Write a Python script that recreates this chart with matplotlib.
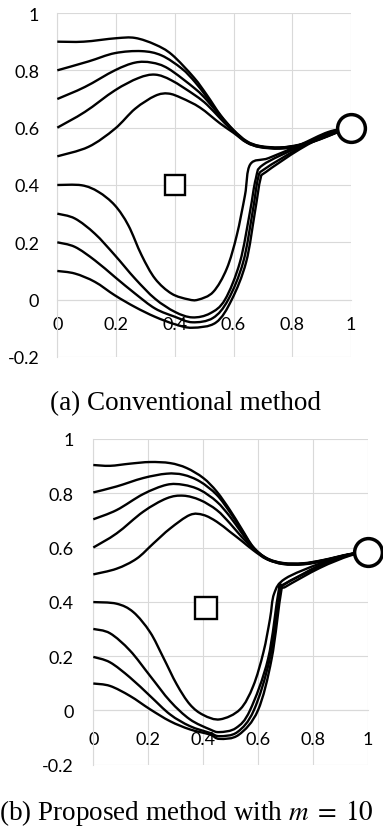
"""
Trajectories: conventional method vs proposed method (m = 10)
"""
import matplotlib
matplotlib.use('Agg')
import matplotlib.pyplot as plt
from matplotlib.path import Path
from matplotlib.patches import PathPatch

## tick values and labels
ticks_x = [0, 0.2, 0.4, 0.6, 0.8, 1]
ticks_y = [-0.2, 0, 0.2, 0.4, 0.6, 0.8, 1]
labels_x = ['0', '0.2', '0.4', '0.6', '0.8', '1']
labels_y = ['-0.2', '0', '0.2', '0.4', '0.6', '0.8', '1']

## (a) conventional method
conv_start = (0.4, 0.4)      # square
conv_goal = (1.0, 0.6)       # circle

conv_09_x = [0, 0.09, 0.2, 0.265, 0.333, 0.39, 0.465, 0.51, 0.555, 0.6, 0.645, 0.69, 0.758, 0.826, 0.894, 0.95, 1.0]
conv_09_y = [0.90, 0.90, 0.912, 0.913, 0.89, 0.855, 0.775, 0.713, 0.645, 0.592, 0.553, 0.536, 0.531, 0.541, 0.563, 0.585, 0.6]
conv_08_x = [0, 0.106, 0.196, 0.287, 0.355, 0.424, 0.469, 0.51, 0.555, 0.6, 0.645, 0.69, 0.758, 0.826, 0.894, 0.95, 1.0]
conv_08_y = [0.80, 0.831, 0.86, 0.867, 0.852, 0.806, 0.759, 0.705, 0.642, 0.59, 0.551, 0.535, 0.53, 0.54, 0.562, 0.584, 0.6]
conv_07_x = [0, 0.094, 0.196, 0.265, 0.321, 0.378, 0.469, 0.51, 0.555, 0.6, 0.645, 0.69, 0.758, 0.826, 0.894, 0.95, 1.0]
conv_07_y = [0.70, 0.742, 0.80, 0.827, 0.827, 0.806, 0.736, 0.695, 0.64, 0.588, 0.55, 0.534, 0.529, 0.539, 0.561, 0.584, 0.6]
conv_06_x = [0, 0.094, 0.196, 0.276, 0.333, 0.389, 0.469, 0.51, 0.555, 0.6, 0.645, 0.69, 0.758, 0.826, 0.894, 0.95, 1.0]
conv_06_y = [0.60, 0.655, 0.73, 0.773, 0.785, 0.765, 0.713, 0.68, 0.632, 0.586, 0.549, 0.533, 0.528, 0.538, 0.56, 0.583, 0.6]
conv_05_x = [0, 0.106, 0.196, 0.265, 0.333, 0.378, 0.424, 0.486, 0.554, 0.6, 0.645, 0.69, 0.758, 0.826, 0.894, 0.95, 1.0]
conv_05_y = [0.50, 0.533, 0.596, 0.666, 0.711, 0.719, 0.703, 0.67, 0.615, 0.582, 0.548, 0.532, 0.527, 0.537, 0.559, 0.582, 0.6]
conv_04_x = [0, 0.083, 0.14, 0.196, 0.242, 0.287, 0.333, 0.389, 0.446, 0.48, 0.531, 0.577, 0.611, 0.639, 0.657, 0.72, 0.826, 0.923, 1.0]
conv_04_y = [0.40, 0.399, 0.376, 0.329, 0.259, 0.155, 0.073, 0.021, 0.001, 0.0, 0.027, 0.108, 0.224, 0.364, 0.472, 0.494, 0.54, 0.585, 0.6]
conv_03_x = [0, 0.06, 0.128, 0.196, 0.265, 0.333, 0.401, 0.46, 0.52, 0.571, 0.622, 0.656, 0.676, 0.7, 0.826, 0.93, 1.0]
conv_03_y = [0.30, 0.283, 0.23, 0.155, 0.073, 0.003, -0.043, -0.062, -0.048, 0.0, 0.131, 0.306, 0.422, 0.47, 0.535, 0.585, 0.6]
conv_02_x = [0, 0.06, 0.128, 0.196, 0.265, 0.333, 0.401, 0.46, 0.53, 0.582, 0.633, 0.665, 0.684, 0.705, 0.826, 0.93, 1.0]
conv_02_y = [0.20, 0.184, 0.137, 0.079, 0.021, -0.031, -0.06, -0.079, -0.064, 0.0, 0.131, 0.306, 0.425, 0.455, 0.53, 0.582, 0.6]
conv_01_x = [0, 0.06, 0.128, 0.196, 0.265, 0.333, 0.401, 0.46, 0.54, 0.594, 0.643, 0.673, 0.692, 0.71, 0.826, 0.93, 1.0]
conv_01_y = [0.10, 0.091, 0.062, 0.015, -0.026, -0.06, -0.086, -0.098, -0.08, 0.0, 0.131, 0.306, 0.422, 0.445, 0.525, 0.58, 0.6]

## (b) proposed method with m = 10
prop_start = (0.41, 0.378)
prop_goal = (1.0, 0.582)

prop_09_x = [0, 0.061, 0.134, 0.207, 0.28, 0.34, 0.401, 0.45, 0.498, 0.54, 0.583, 0.632, 0.692, 0.765, 0.838, 0.935, 1.0]
prop_09_y = [0.904, 0.901, 0.909, 0.915, 0.911, 0.893, 0.856, 0.806, 0.738, 0.67, 0.602, 0.561, 0.543, 0.542, 0.554, 0.576, 0.582]
prop_08_x = [0, 0.085, 0.182, 0.267, 0.328, 0.389, 0.45, 0.498, 0.54, 0.583, 0.632, 0.692, 0.765, 0.838, 0.935, 1.0]
prop_08_y = [0.803, 0.825, 0.856, 0.872, 0.868, 0.843, 0.794, 0.73, 0.665, 0.6, 0.56, 0.542, 0.541, 0.553, 0.575, 0.582]
prop_07_x = [0, 0.085, 0.182, 0.267, 0.328, 0.389, 0.45, 0.498, 0.54, 0.583, 0.632, 0.692, 0.765, 0.838, 0.935, 1.0]
prop_07_y = [0.704, 0.738, 0.797, 0.831, 0.831, 0.812, 0.769, 0.714, 0.655, 0.598, 0.559, 0.541, 0.54, 0.552, 0.575, 0.582]
prop_06_x = [0, 0.085, 0.182, 0.267, 0.328, 0.389, 0.45, 0.498, 0.54, 0.583, 0.632, 0.692, 0.765, 0.838, 0.935, 1.0]
prop_06_y = [0.60, 0.652, 0.732, 0.781, 0.791, 0.775, 0.738, 0.689, 0.64, 0.596, 0.558, 0.54, 0.539, 0.551, 0.574, 0.582]
prop_05_x = [0, 0.085, 0.158, 0.219, 0.28, 0.352, 0.401, 0.45, 0.498, 0.54, 0.583, 0.632, 0.692, 0.765, 0.838, 0.935, 1.0]
prop_05_y = [0.501, 0.522, 0.559, 0.615, 0.67, 0.72, 0.72, 0.695, 0.658, 0.625, 0.59, 0.557, 0.539, 0.538, 0.55, 0.574, 0.582]
prop_04_x = [0, 0.085, 0.146, 0.207, 0.255, 0.304, 0.352, 0.401, 0.462, 0.535, 0.583, 0.62, 0.644, 0.659, 0.699, 0.826, 0.935, 1.0]
prop_04_y = [0.399, 0.393, 0.362, 0.288, 0.195, 0.096, 0.022, -0.017, -0.033, 0.004, 0.09, 0.214, 0.337, 0.43, 0.485, 0.541, 0.575, 0.582]
prop_03_x = [0, 0.061, 0.134, 0.207, 0.28, 0.352, 0.425, 0.46, 0.52, 0.571, 0.637, 0.675, 0.69, 0.826, 0.935, 1.0]
prop_03_y = [0.30, 0.284, 0.22, 0.127, 0.034, -0.033, -0.07, -0.08, -0.065, 0.0, 0.19, 0.437, 0.46, 0.535, 0.575, 0.582]
prop_02_x = [0, 0.061, 0.134, 0.207, 0.28, 0.352, 0.425, 0.46, 0.525, 0.585, 0.643, 0.68, 0.695, 0.826, 0.935, 1.0]
prop_02_y = [0.197, 0.177, 0.121, 0.053, -0.015, -0.058, -0.083, -0.095, -0.08, 0.0, 0.19, 0.44, 0.465, 0.53, 0.572, 0.582]
prop_01_x = [0, 0.061, 0.134, 0.207, 0.28, 0.352, 0.425, 0.46, 0.53, 0.6, 0.65, 0.685, 0.70, 0.826, 0.935, 1.0]
prop_01_y = [0.099, 0.09, 0.053, 0.004, -0.04, -0.07, -0.089, -0.105, -0.09, 0.0, 0.19, 0.44, 0.455, 0.525, 0.57, 0.582]

conv_curves = [(conv_09_x, conv_09_y), (conv_08_x, conv_08_y), (conv_07_x, conv_07_y),
               (conv_06_x, conv_06_y), (conv_05_x, conv_05_y), (conv_04_x, conv_04_y),
               (conv_03_x, conv_03_y), (conv_02_x, conv_02_y), (conv_01_x, conv_01_y)]
prop_curves = [(prop_09_x, prop_09_y), (prop_08_x, prop_08_y), (prop_07_x, prop_07_y),
               (prop_06_x, prop_06_y), (prop_05_x, prop_05_y), (prop_04_x, prop_04_y),
               (prop_03_x, prop_03_y), (prop_02_x, prop_02_y), (prop_01_x, prop_01_y)]

plt.rcParams['mathtext.fontset'] = 'stix'
plt.rcParams['font.family'] = ['Lato', 'DejaVu Sans']
plt.rcParams['font.size'] = 13
grid_col = '#d9d9d9'


# smoothed line like a spreadsheet "smooth line": bezier through the read points
def smooth_path(xs, ys):
    pts = list(zip(xs, ys))
    n = len(pts)
    verts = [pts[0]]
    codes = [Path.MOVETO]
    for i in range(n - 1):
        p0 = pts[max(i - 1, 0)]
        p1 = pts[i]
        p2 = pts[i + 1]
        p3 = pts[min(i + 2, n - 1)]
        c1 = (p1[0] + (p2[0] - p0[0]) / 6, p1[1] + (p2[1] - p0[1]) / 6)
        c2 = (p2[0] - (p3[0] - p1[0]) / 6, p2[1] - (p3[1] - p1[1]) / 6)
        verts += [c1, c2, p2]
        codes += [Path.CURVE4] * 3
    return Path(verts, codes)


def draw_panel(ax, curves, start, goal, sq_size, ypad, xpad):
    ax.spines['bottom'].set_position(('data', 0))
    ax.set_xlim(0, 1)
    ax.set_ylim(-0.2, 1)
    ax.set_axisbelow(True)
    for xs, ys in curves:
        ax.add_patch(PathPatch(smooth_path(xs, ys), fill=False, ec='black', lw=1.7,
                               joinstyle='round', zorder=3, clip_on=False))
    ax.plot(*start, marker='s', ms=sq_size, mfc='white', mec='black', mew=1.7, zorder=4)
    ax.plot(*goal, marker='o', ms=20, mfc='white', mec='black', mew=2.5, zorder=5, clip_on=False)
    ax.set_xticks(ticks_x)
    ax.set_yticks(ticks_y)
    ax.set_xticklabels(labels_x)
    ax.set_yticklabels(labels_y)
    ax.grid(True, color=grid_col, lw=0.8)
    for s in ['top', 'right']:
        ax.spines[s].set_visible(False)
    ax.spines['bottom'].set_color(grid_col)
    ax.spines['left'].set_color(grid_col)
    ax.tick_params(axis='both', length=0, colors='black', labelsize=13)
    ax.tick_params(axis='y', pad=ypad)
    ax.tick_params(axis='x', pad=xpad)


fig = plt.figure(figsize=(3.83, 8.29), dpi=100)
ax1 = fig.add_axes([0.1496, 0.5682, 0.7668, 0.4149])
draw_panel(ax1, conv_curves, conv_start, conv_goal, 14, ypad=13, xpad=12)
fig.text(185 / 383, 1 - 404 / 829, '(a) Conventional method', family='Liberation Serif',
         fontsize=19.5, ha='center', va='center')

ax2 = fig.add_axes([0.2436, 0.0764, 0.7164, 0.3929])
draw_panel(ax2, prop_curves, prop_start, prop_goal, 15.5, ypad=14, xpad=15)
fig.text(186 / 383, 1 - 813 / 829, '(b) Proposed method with $m\\;=\\;10$', family='Liberation Serif',
         fontsize=19.5, ha='center', va='center')

fig.savefig('out.png', dpi=100)
